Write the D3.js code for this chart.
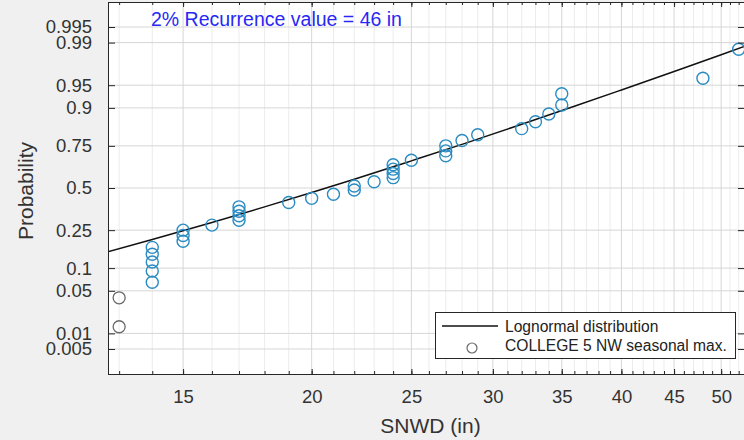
<!DOCTYPE html>
<html>
<head>
<meta charset="utf-8">
<script src="https://cdn.jsdelivr.net/npm/d3@7"></script>
<style>
  html, body { margin: 0; padding: 0; background: #f0f0f0; }
  svg { display: block; font-family: "Liberation Sans", Arial, sans-serif; }
</style>
</head>
<body>
<svg id="chart" width="744" height="440"></svg>
<script>
// ---- data ----
const snwdValues = [14,14,14,14,14,15,15,15,16,17,17,17,17,19,20,21,22,22,23,24,24,24,24,25,27,27,27,28,29,32,33,34,35,35,48,52];
const snwdProb   = [0.0658,0.0921,0.1184,0.1447,0.1711,0.1974,0.2237,0.2500,0.2763,0.3026,0.3289,0.3553,0.3816,0.4079,0.4342,0.4605,0.4868,0.5132,0.5395,0.5658,0.5921,0.6184,0.6447,0.6711,0.6974,0.7237,0.7500,0.7763,0.8026,0.8289,0.8553,0.8816,0.9079,0.9342,0.9605,0.9868];
const lowValues = [13,13];
const lowProb   = [0.0132,0.0395];
const fitSnwd = [12.6,14,16,18,20,22,25,28,32,36,40,45,50,53];
const fitProb = [0.1506,0.2047,0.2905,0.3813,0.4713,0.556,0.668,0.7574,0.846,0.9044,0.9417,0.9689,0.9835,0.9888];
const probTicks = [0.005,0.01,0.05,0.1,0.25,0.5,0.75,0.9,0.95,0.99,0.995];
const probTickLabels = ["0.005","0.01","0.05","0.1","0.25","0.5","0.75","0.9","0.95","0.99","0.995"];
const xMajorTicks = [15,20,25,30,35,40,45,50];
const xMinorTicks = [13,14,15,16,17,18,19,20,21,22,23,24,25,26,27,28,29,30,31,32,33,34,35,36,37,38,39,40,41,42,43,44,45,46,47,48,49,50,51,52];
const titleText = "2% Recurrence value = 46 in";
const xLabel = "SNWD (in)";
const yLabel = "Probability";
const legendLabels = ["Lognormal distribution", "COLLEGE 5 NW seasonal max."];

// inverse standard normal CDF (Acklam)
function probit(p) {
  const a = [-3.969683028665376e+01, 2.209460984245205e+02, -2.759285104469687e+02, 1.383577518672690e+02, -3.066479806614716e+01, 2.506628277459239e+00];
  const b = [-5.447609879822406e+01, 1.615858368580409e+02, -1.556989798598866e+02, 6.680131188771972e+01, -1.328068155288572e+01];
  const c = [-7.784894002430293e-03, -3.223964580411365e-01, -2.400758277161838e+00, -2.549732539343734e+00, 4.374664141464968e+00, 2.938163982698783e+00];
  const d = [7.784695709041462e-03, 3.224671290700398e-01, 2.445134137142996e+00, 3.754408661907416e+00];
  const pl = 0.02425;
  let q, r;
  if (p < pl) {
    q = Math.sqrt(-2 * Math.log(p));
    return (((((c[0]*q+c[1])*q+c[2])*q+c[3])*q+c[4])*q+c[5]) / ((((d[0]*q+d[1])*q+d[2])*q+d[3])*q+1);
  } else if (p <= 1 - pl) {
    q = p - 0.5; r = q*q;
    return (((((a[0]*r+a[1])*r+a[2])*r+a[3])*r+a[4])*r+a[5])*q / (((((b[0]*r+b[1])*r+b[2])*r+b[3])*r+b[4])*r+1);
  } else {
    q = Math.sqrt(-2 * Math.log(1 - p));
    return -(((((c[0]*q+c[1])*q+c[2])*q+c[3])*q+c[4])*q+c[5]) / ((((d[0]*q+d[1])*q+d[2])*q+d[3])*q+1);
  }
}

const L = 108, R = 745, T = 2, B = 374;
const svg = d3.select("#chart");

const x = d3.scaleLog().domain([12.68, 52.74]).range([L, R]);
const yz = d3.scaleLinear().domain([-2.976, 2.976]).range([B, T]);
const y = p => yz(probit(p));

// plot background
svg.append("rect").attr("x", L).attr("y", T).attr("width", R - L).attr("height", B - T).attr("fill", "#ffffff");

// grid
const grid = svg.append("g");
grid.selectAll(".vminor").data(xMinorTicks.filter(v => v % 5 !== 0)).join("line")
  .attr("x1", d => x(d)).attr("x2", d => x(d)).attr("y1", T).attr("y2", B)
  .attr("stroke", "#ececec").attr("stroke-width", 1);
grid.selectAll(".vmajor").data(xMajorTicks).join("line")
  .attr("x1", d => x(d)).attr("x2", d => x(d)).attr("y1", T).attr("y2", B)
  .attr("stroke", "#d6d6d6").attr("stroke-width", 1);
grid.selectAll(".h").data(probTicks).join("line")
  .attr("x1", L).attr("x2", R).attr("y1", d => y(d)).attr("y2", d => y(d))
  .attr("stroke", "#d6d6d6").attr("stroke-width", 1);

// clip
svg.append("clipPath").attr("id", "clip").append("rect")
  .attr("x", L).attr("y", T).attr("width", R - L).attr("height", B - T);
const plot = svg.append("g").attr("clip-path", "url(#clip)");

// fitted line
const line = d3.line().x(d => x(d[0])).y(d => y(d[1])).curve(d3.curveMonotoneX);
plot.append("path").datum(fitSnwd.map((v, i) => [v, fitProb[i]]))
  .attr("d", line).attr("fill", "none").attr("stroke", "#111").attr("stroke-width", 1.5);

// points
plot.selectAll(".pt").data(snwdValues.map((v, i) => [v, snwdProb[i]])).join("circle")
  .attr("cx", d => x(d[0])).attr("cy", d => y(d[1])).attr("r", 6)
  .attr("fill", "none").attr("stroke", "#2a8cc2").attr("stroke-width", 1.4);
plot.selectAll(".lp").data(lowValues.map((v, i) => [v, lowProb[i]])).join("circle")
  .attr("cx", d => x(d[0])).attr("cy", d => y(d[1])).attr("r", 6)
  .attr("fill", "none").attr("stroke", "#6a6a6a").attr("stroke-width", 1.3);

// axes
const axisColor = "#262626";
function styleAxis(g) {
  g.select(".domain").remove();
  g.selectAll(".tick line").attr("stroke", axisColor);
  g.selectAll(".tick text").attr("fill", "#333").style("font-size", "18.5px")
    .style("font-family", "'Liberation Sans', Arial, sans-serif");
}
svg.append("g").attr("transform", `translate(0,${B})`)
  .call(d3.axisBottom(x).tickValues(xMinorTicks).tickSize(-3).tickFormat(""))
  .call(styleAxis);
svg.append("g").attr("transform", `translate(0,${B})`)
  .call(d3.axisBottom(x).tickValues(xMajorTicks).tickSize(-5).tickPadding(16).tickFormat(d3.format("d")))
  .call(styleAxis);
svg.append("g").attr("transform", `translate(0,${T})`)
  .call(d3.axisTop(x).tickValues(xMinorTicks).tickSize(-3).tickFormat(""))
  .call(styleAxis);
svg.append("g").attr("transform", `translate(0,${T})`)
  .call(d3.axisTop(x).tickValues(xMajorTicks).tickSize(-5).tickFormat(""))
  .call(styleAxis);

const yAxisScale = d3.scaleLinear().domain(yz.domain()).range(yz.range());
svg.append("g").attr("transform", `translate(${L},0)`)
  .call(d3.axisLeft(yAxisScale).tickValues(probTicks.map(probit)).tickSize(-7).tickPadding(16)
    .tickFormat((d, i) => probTickLabels[i]))
  .call(styleAxis);
svg.append("g").attr("transform", `translate(${R},0)`)
  .call(d3.axisRight(yAxisScale).tickValues(probTicks.map(probit)).tickSize(-7).tickFormat(""))
  .call(styleAxis);

// box
svg.append("rect").attr("x", L + 0.5).attr("y", T + 0.5).attr("width", R - L - 1).attr("height", B - T)
  .attr("fill", "none").attr("stroke", axisColor).attr("stroke-width", 1);

// title text
svg.append("text").attr("x", 151).attr("y", 26).attr("fill", "#2828f5")
  .style("font-size", "19.5px").text(titleText);

// axis labels
svg.append("text").attr("x", (L + R) / 2 + 4).attr("y", 433).attr("text-anchor", "middle")
  .attr("fill", "#333").style("font-size", "21px").text(xLabel);
svg.append("text").attr("transform", "translate(33,191) rotate(-90)").attr("text-anchor", "middle")
  .attr("fill", "#333").style("font-size", "21px").text(yLabel);

// legend
const lg = svg.append("g");
lg.append("rect").attr("x", 435.5).attr("y", 312.5).attr("width", 300).attr("height", 46)
  .attr("fill", "#ffffff").attr("stroke", axisColor).attr("stroke-width", 1);
lg.append("line").attr("x1", 442).attr("x2", 498).attr("y1", 326).attr("y2", 326)
  .attr("stroke", "#111").attr("stroke-width", 1.5);
lg.append("circle").attr("cx", 472).attr("cy", 348).attr("r", 5)
  .attr("fill", "none").attr("stroke", "#6a6a6a").attr("stroke-width", 1.2);
lg.selectAll("text").data(legendLabels).join("text")
  .attr("x", 505).attr("y", (d, i) => 332 + i * 19).attr("fill", "#222")
  .style("font-size", "15.6px").text(d => d);
</script>
</body>
</html>
